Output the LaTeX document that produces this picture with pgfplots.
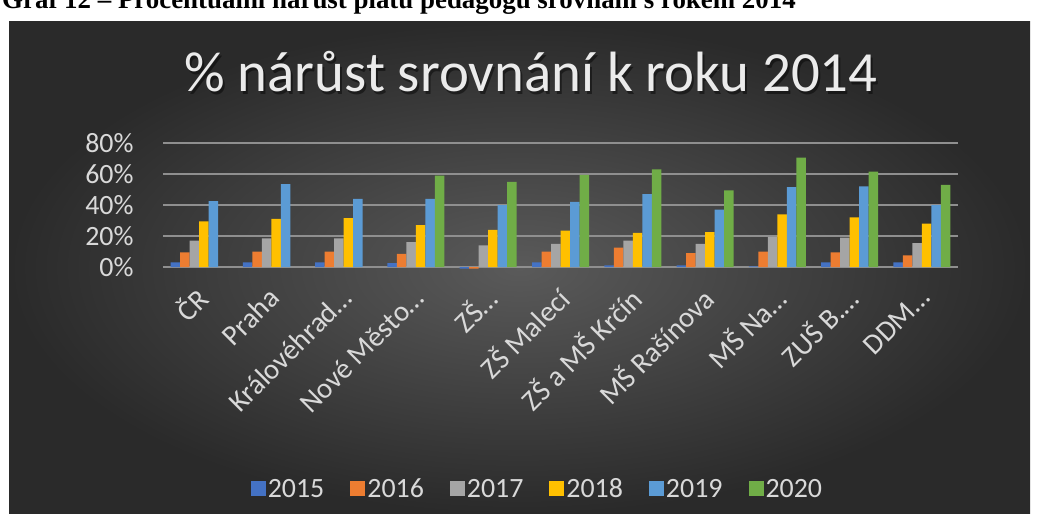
\documentclass[border=0pt]{standalone}
\usepackage{pgfplots}
\usepackage{pgfplotstable}
\pgfplotsset{compat=1.18}
\usepackage{fontspec}
\setmainfont{Carlito}
\newfontfamily\capfont{Liberation Serif}
\definecolor{c15}{HTML}{4472C4}
\definecolor{c16}{HTML}{ED7D31}
\definecolor{c17}{HTML}{A5A5A5}
\definecolor{c18}{HTML}{FFC000}
\definecolor{c19}{HTML}{5B9BD5}
\definecolor{c20}{HTML}{70AD47}
\definecolor{bgin}{HTML}{5A5A5A}
\definecolor{bgout}{HTML}{2A2A2A}
\definecolor{lbl}{HTML}{D9D9D9}
\definecolor{gridc}{HTML}{8F8F8F}
\pgfplotstableread{
x y15 y16 y17 y18 y19 y20
0 3 9.5 17 29.5 42.5 nan
1 3 10 18.5 31 53.5 nan
2 3 10 18.5 31.5 44 nan
3 2.5 8.5 16 27 44 59
4 -1 -1 14 24 40 55
5 3 10 15 23.5 42 59.5
6 1 12.5 17 22 47 63
7 1 9 15 22.5 37 49.5
8 0.5 10 19.5 34 51.5 70.5
9 3 9.5 19 32 52 61.5
10 3 7.5 15.5 28 40 53
}\datatable
\begin{document}
\begin{tikzpicture}[x=1bp,y=1bp]
\path[use as bounding box] (0,0) rectangle (1039,514);
\fill[white] (0,0) rectangle (1039,514);
\begin{scope}
\clip (0,0) rectangle (1039,514);
\node[anchor=base west, font=\capfont\bfseries\fontsize{27}{27}\selectfont, inner sep=0] at (2,505.5) {Graf 12 – Procentuální nárůst platů pedagogů srovnání s rokem 2014};
\end{scope}
\shade[inner color=bgin, outer color=bgout] (9,0) rectangle (1030,492);
\node[font=\fontsize{57}{57}\selectfont, text=black, opacity=0.45, inner sep=0] at (533,439.5) {\% nárůst srovnání k roku 2014};
\node[font=\fontsize{57}{57}\selectfont, text=white!92!black, inner sep=0] at (531,442) {\% nárůst srovnání k roku 2014};
\begin{axis}[
  at={(163bp,242.3bp)}, anchor=south west,
  scale only axis, width=795bp, height=128.7bp,
  xmin=-0.5, xmax=10.5, ymin=-3, ymax=80,
  ybar=0pt, bar width=9.5bp,
  axis line style={draw=none}, major tick length=0pt,
  xtick={0,...,10},
  xticklabels={ČR,Praha,Královéhrad…,Nové Město…,ZŠ…,ZŠ Malecí,ZŠ a MŠ Krčín,MŠ Rašínova,MŠ Na…,ZUŠ B.…,DDM…},
  xticklabel style={xshift=5.5bp, yshift=-19bp, rotate=45, anchor=east, font=\fontsize{29}{29}\selectfont, text=lbl},
  ytick={0,20,40,60,80},
  yticklabels={0\%,20\%,40\%,60\%,80\%},
  yticklabel style={font=\fontsize{28}{28}\selectfont, text=lbl, xshift=-26bp},
  ymajorgrids, grid style={draw=gridc, line width=1.8bp},
  legend image code/.code={\fill[#1] (0bp,-7.5bp) rectangle (15bp,7.5bp);},
  legend columns=6,
  legend style={at={(0.471,-1.688)}, anchor=center, draw=none, fill=none,
    font=\fontsize{28}{28}\selectfont, text=lbl,
    nodes={text height=18bp, text depth=0bp},
    /tikz/every even column/.append style={column sep=24bp}},
]
\addplot[fill=c15, draw=none] table[x=x,y=y15]{\datatable};
\addplot[fill=c16, draw=none] table[x=x,y=y16]{\datatable};
\addplot[fill=c17, draw=none] table[x=x,y=y17]{\datatable};
\addplot[fill=c18, draw=none] table[x=x,y=y18]{\datatable};
\addplot[fill=c19, draw=none] table[x=x,y=y19]{\datatable};
\addplot[fill=c20, draw=none] table[x=x,y=y20]{\datatable};
\legend{2015,2016,2017,2018,2019,2020}
\end{axis}
\end{tikzpicture}
\end{document}
